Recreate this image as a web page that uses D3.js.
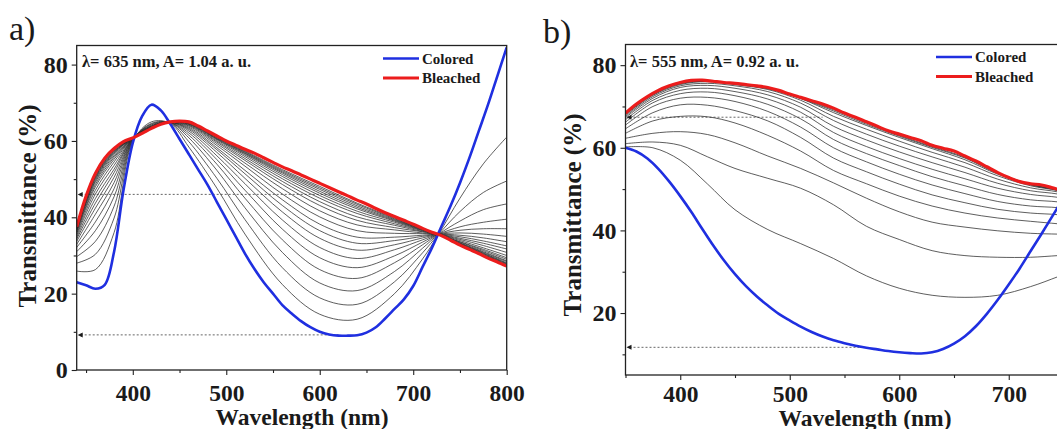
<!DOCTYPE html>
<html>
<head>
<meta charset="utf-8">
<script src="https://cdn.jsdelivr.net/npm/d3@7"></script>
<style>
  html, body { margin: 0; padding: 0; background: #fff; overflow: hidden; }
  svg { display: block; }
  text { font-family: "Liberation Serif", "Times New Roman", serif; }
</style>
</head>
<body>
<svg id="chart" width="1057" height="429"></svg>
<script>
// ---------- Panel a: lambda = 635 nm ----------
const wavelengthsA = [340,350,360,370,380,390,400,410,420,430,440,450,460,470,480,490,500,510,520,530,540,550,560,570,580,590,600,610,620,630,640,650,660,670,680,690,700,710,720,730,740,750,760,770,780,790,800];
const coloredA = [23.0,22.2,21.3,22.3,31.0,47.0,59.5,66.5,69.5,68.0,64.5,60.5,56.5,52.5,48.5,44.0,39.5,35.0,30.5,26.5,23.0,20.0,17.0,14.8,12.8,11.2,10.0,9.3,9.0,9.0,9.1,9.8,11.2,13.5,16.0,18.5,22.0,27.0,32.0,37.5,43.0,49.0,55.5,62.5,69.5,77.0,84.5];
const bleachedA = [37.5,45.5,51.5,55.5,58.0,59.8,60.8,62.0,63.3,64.4,65.0,65.2,65.0,63.9,62.6,61.3,60.0,58.9,57.8,56.8,55.6,54.4,53.2,52.2,51.1,50.0,48.9,47.8,46.7,45.6,44.5,43.5,42.3,41.2,40.2,39.2,38.2,37.1,36.1,35.2,34.0,32.7,31.6,30.5,29.3,28.3,27.2];

// intermediate spectra recorded during bleaching
const stepWavelengthsA = [340,360,380,400,420,440,460,490,520,560,600,640,680,710,727,750,775,800];
const stepSpectraA = [
  [25.9,26.3,36.0,59.8,65.0,64.6,58.4,47.6,35.6,22.4,14.6,13.3,20.0,29.1,35.5,45.0,54.0,61.0],
  [28.0,30.3,39.8,60.0,64.6,64.7,59.8,50.2,39.4,26.8,18.9,17.2,23.1,30.7,35.5,41.5,46.5,49.5],
  [29.7,33.7,42.9,60.2,64.4,64.8,60.8,52.3,42.5,30.8,22.8,20.8,25.8,31.9,35.5,39.0,42.0,43.5],
  [31.0,36.5,45.4,60.3,64.2,64.8,61.5,53.9,45.0,34.1,26.3,24.0,28.1,32.8,35.5,37.5,38.7,39.5],
  [32.1,38.8,47.5,60.4,64.0,64.8,62.1,55.1,47.1,36.9,29.4,26.8,29.9,33.5,35.5,36.6,37.0,37.0],
  [32.9,40.8,49.1,60.5,63.9,64.9,62.6,56.1,48.8,39.3,32.1,29.2,31.5,34.1,35.5,35.9,35.6,35.0],
  [33.7,42.4,50.5,60.5,63.8,64.9,63.0,57.0,50.2,41.4,34.5,31.4,32.8,34.6,35.5,35.3,34.6,33.6],
  [34.3,43.7,51.7,60.6,63.7,64.9,63.3,57.7,51.4,43.1,36.5,33.2,33.9,35.0,35.5,34.9,33.8,32.5],
  [34.8,44.9,52.6,60.6,63.6,64.9,63.6,58.2,52.3,44.6,38.2,34.8,34.8,35.3,35.5,34.5,33.2,31.7],
  [35.3,46.1,53.6,60.6,63.6,64.9,63.9,58.8,53.4,46.1,40.1,36.5,35.8,35.7,35.5,34.2,32.6,30.8],
  [35.7,47.1,54.5,60.7,63.5,64.9,64.1,59.3,54.2,47.5,41.7,38.0,36.7,35.9,35.5,33.9,32.0,30.0],
  [36.1,48.0,55.2,60.7,63.5,65.0,64.3,59.7,54.9,48.6,43.1,39.2,37.3,36.2,35.5,33.6,31.6,29.4],
  [36.3,48.6,55.7,60.7,63.4,65.0,64.4,60.0,55.4,49.4,44.1,40.1,37.9,36.3,35.5,33.5,31.3,29.0],
  [36.6,49.2,56.1,60.7,63.4,65.0,64.5,60.3,55.9,50.1,45.0,41.0,38.3,36.5,35.5,33.3,31.0,28.6],
  [36.7,49.6,56.5,60.8,63.4,65.0,64.6,60.5,56.3,50.7,45.7,41.6,38.7,36.6,35.5,33.2,30.8,28.4],
  [36.9,50.0,56.8,60.8,63.4,65.0,64.7,60.6,56.6,51.2,46.3,42.2,39.0,36.7,35.5,33.1,30.6,28.1],
  [37.0,50.3,57.0,60.8,63.3,65.0,64.8,60.8,56.8,51.6,46.8,42.6,39.2,36.8,35.5,33.0,30.5,27.9],
  [37.1,50.6,57.2,60.8,63.3,65.0,64.8,60.9,57.0,51.9,47.3,43.0,39.4,36.9,35.5,32.9,30.3,27.8],
  [37.2,50.8,57.4,60.8,63.3,65.0,64.9,61.0,57.2,52.2,47.7,43.4,39.6,36.9,35.5,32.9,30.2,27.6],
  [37.3,51.0,57.6,60.8,63.3,65.0,64.9,61.1,57.4,52.5,48.1,43.7,39.8,37.0,35.5,32.8,30.1,27.5]
];
// dotted guide levels (transmittance, end wavelength)
const guidesA = [[46.0, 630], [9.2, 620]];
const xTicksA = [400,500,600,700,800];
const xMinorA = [350,450,550,650,750];
const yTicksA = [0,20,40,60,80];
const yMinorA = [10,30,50,70];

// ---------- Panel b: lambda = 555 nm ----------
const wavelengthsB = [350,360,370,380,390,400,410,420,430,440,450,460,470,480,490,500,510,520,530,540,550,560,570,580,590,600,610,620,630,640,650,660,670,680,690,700,710,720,730,740,750,760];
const coloredB = [60.0,59.1,57.4,54.9,51.8,48.3,44.5,40.4,36.4,32.7,29.4,26.5,24.0,21.8,19.8,18.2,16.7,15.4,14.3,13.4,12.7,12.1,11.6,11.2,10.8,10.5,10.3,10.2,10.5,11.3,12.6,14.4,16.8,19.8,23.2,26.9,30.8,35.0,39.2,43.5,48.0,52.5];
const bleachedB = [68.4,70.6,72.4,73.9,75.0,75.8,76.3,76.4,76.1,75.8,75.6,75.3,75.0,74.6,73.9,73.0,72.2,71.4,70.6,69.6,68.4,67.4,66.3,65.2,64.1,63.3,62.5,61.7,60.6,59.9,59.2,58.0,56.8,55.4,54.0,52.8,51.8,51.3,51.0,50.3,49.5,48.7];

const stepWavelengthsB = [350,375,400,425,450,480,510,540,570,600,630,660,690,720,745,760];
const stepSpectraB = [
  [60.2,60.0,57.0,51.2,45.0,40.2,36.8,33.2,29.0,26.0,24.3,23.8,24.3,26.4,28.8,30.3],
  [61.0,61.4,60.6,57.8,55.0,52.6,50.2,46.2,41.0,37.8,35.1,33.9,33.5,33.5,33.9,34.1],
  [62.3,63.5,63.9,63.2,61.2,58.0,55.0,51.5,47.8,44.5,42.0,40.8,39.9,39.3,39.1,39.0],
  [63.5,66.5,67.6,67.5,66.0,63.0,59.2,54.5,51.3,48.3,45.9,44.2,43.0,42.2,41.6,41.2],
  [64.6,68.5,70.4,70.3,69.0,66.5,62.5,57.5,54.2,51.2,48.6,46.7,45.1,44.2,43.8,43.2],
  [65.5,70.0,72.0,72.2,71.2,68.8,65.0,60.0,56.6,53.6,51.0,48.9,47.0,45.9,45.5,44.9],
  [66.2,70.9,73.1,73.5,72.6,70.5,67.0,62.0,58.6,55.7,53.0,50.8,48.7,47.4,46.9,46.2],
  [66.8,71.5,73.9,74.4,73.6,71.8,68.6,63.7,60.3,57.4,54.8,52.5,50.2,48.7,48.0,47.2],
  [67.3,72.0,74.6,75.1,74.4,72.8,69.8,65.2,61.9,59.0,56.4,54.0,51.4,49.6,48.8,47.8],
  [67.6,72.4,75.0,75.6,75.0,73.6,70.8,66.6,63.3,60.4,57.8,55.3,52.4,50.3,49.3,48.1],
  [67.9,72.7,75.3,76.0,75.3,74.1,71.5,67.6,64.5,61.6,58.9,56.4,53.2,50.8,49.6,48.3],
  [68.1,72.9,75.5,76.1,75.4,74.3,71.9,68.5,65.4,62.5,59.8,57.1,53.6,51.0,49.7,48.4],
  [68.2,73.0,75.6,76.2,75.5,74.4,72.0,68.9,65.7,62.8,60.1,57.5,53.8,51.1,49.8,48.5],
  [68.3,73.1,75.7,76.2,75.5,74.5,72.1,69.2,66.0,63.0,60.3,57.7,53.9,51.2,49.8,48.5]
];
const guidesB = [[67.4, 530], [11.7, 565]];
const xTicksB = [400,500,600,700];
const xMinorB = [350,450,550,650,750];
const yTicksB = [20,40,60,80];
const yMinorB = [10,30,50,70];

const COLORED = "#1f2fe0";
const BLEACHED = "#ec1c1c";
const INK = "#1a1a1a";
const svg = d3.select("#chart");
const defs = svg.append("defs");

function drawPanel(p) {
  const x = d3.scaleLinear().domain(p.xDomain).range([p.left, p.right]);
  const y = d3.scaleLinear().domain(p.yDomain).range([p.bottom, p.top]);
  const g = svg.append("g");

  defs.append("clipPath").attr("id", "clip-" + p.id)
    .append("rect").attr("x", p.left).attr("y", p.top)
    .attr("width", p.right - p.left).attr("height", p.bottom - p.top);
  const plot = g.append("g").attr("clip-path", `url(#clip-${p.id})`);

  // dotted guide lines with small arrow heads at the axis
  p.guides.forEach(([level, end]) => {
    const x0 = x(p.xDomain[0]), yy = y(level);
    plot.append("line")
      .attr("x1", x0 + 4).attr("x2", x(end)).attr("y1", yy).attr("y2", yy)
      .attr("stroke", "#555").attr("stroke-width", 0.9).attr("stroke-dasharray", "2,2");
    plot.append("path")
      .attr("d", `M${x0 + 1},${yy} L${x0 + 6},${yy - 2.5} L${x0 + 6},${yy + 2.5} Z`)
      .attr("fill", INK);
  });

  const line = d3.line()
    .x(d => x(d[0])).y(d => y(d[1]))
    .curve(d3.curveCatmullRom.alpha(0.5));

  p.steps.forEach(vals => {
    plot.append("path")
      .datum(p.stepX.map((w, i) => [w, vals[i]]))
      .attr("d", line).attr("fill", "none")
      .attr("stroke", "#2b2b2b").attr("stroke-width", 0.9).attr("stroke-opacity", 0.85);
  });

  plot.append("path")
    .datum(p.wl.map((w, i) => [w, p.colored[i]]))
    .attr("d", line).attr("fill", "none")
    .attr("stroke", COLORED).attr("stroke-width", 2.6);

  plot.append("path")
    .datum(p.wl.map((w, i) => [w, p.bleached[i]]))
    .attr("d", line).attr("fill", "none")
    .attr("stroke", BLEACHED).attr("stroke-width", 3.2);

  // frame
  g.append("rect")
    .attr("x", p.left).attr("y", p.top)
    .attr("width", p.right - p.left).attr("height", p.bottom - p.top)
    .attr("fill", "none").attr("stroke", "#222").attr("stroke-width", 1.3);

  const styleTicks = sel => {
    sel.select(".domain").remove();
    sel.selectAll(".tick line").attr("stroke", "#222").attr("stroke-width", 1.1);
  };

  // x axis
  g.append("g").attr("transform", `translate(0,${p.bottom})`)
    .call(d3.axisBottom(x).tickValues(p.xMinor).tickSize(3).tickFormat(""))
    .call(styleTicks);
  g.append("g").attr("transform", `translate(0,${p.bottom})`)
    .call(d3.axisBottom(x).tickValues(p.xTicks).tickSize(5).tickSizeOuter(0).tickFormat(d3.format("d")))
    .call(styleTicks)
    .call(a => a.selectAll("text")
      .attr("dy", null).attr("y", p.xLabelY)
      .attr("font-size", 23.5).attr("font-weight", "bold")
      .attr("font-family", '"Liberation Serif", serif').attr("fill", INK));

  // y axis
  g.append("g").attr("transform", `translate(${p.left},0)`)
    .call(d3.axisLeft(y).tickValues(p.yMinor).tickSize(3).tickFormat(""))
    .call(styleTicks);
  g.append("g").attr("transform", `translate(${p.left},0)`)
    .call(d3.axisLeft(y).tickValues(p.yTicks).tickSize(5).tickPadding(4).tickSizeOuter(0).tickFormat(d3.format("d")))
    .call(styleTicks)
    .call(a => a.selectAll("text")
      .attr("font-size", 24).attr("font-weight", "bold")
      .attr("font-family", '"Liberation Serif", serif').attr("fill", INK));

  // axis titles
  g.append("text")
    .attr("x", p.xTitleX).attr("y", p.xTitleY)
    .attr("text-anchor", "middle").attr("font-size", 23.5).attr("font-weight", "bold").attr("fill", INK)
    .text("Wavelength (nm)");
  g.append("text")
    .attr("transform", `translate(${p.yTitleX},${p.yTitleY}) rotate(-90)`)
    .attr("text-anchor", "middle").attr("font-size", 25).attr("font-weight", "bold").attr("fill", INK)
    .text("Transmittance (%)");

  // annotation
  g.append("text")
    .attr("x", p.noteX).attr("y", p.noteY)
    .attr("font-size", 16.5).attr("font-weight", "bold").attr("fill", INK)
    .text(p.note);

  // legend
  [["Colored", COLORED, 2.6, 0], ["Bleached", BLEACHED, 3.2, 1]].forEach(([label, color, w, i]) => {
    const ly = p.legendY + i * 19.5;
    g.append("line")
      .attr("x1", p.legendX).attr("x2", p.legendX + 36).attr("y1", ly).attr("y2", ly)
      .attr("stroke", color).attr("stroke-width", w);
    g.append("text")
      .attr("x", p.legendX + 39).attr("y", ly + 5.2)
      .attr("font-size", 15).attr("font-weight", "bold").attr("fill", INK)
      .text(label);
  });

  // panel letter
  g.append("text")
    .attr("x", p.letterX).attr("y", p.letterY)
    .attr("font-size", 34).attr("fill", INK)
    .text(p.letter);
}

drawPanel({
  id: "a", letter: "a)", letterX: 9, letterY: 40,
  left: 76.7, right: 506.7, top: 45.5, bottom: 370,
  xDomain: [340, 800], yDomain: [0, 85],
  wl: wavelengthsA, colored: coloredA, bleached: bleachedA,
  stepX: stepWavelengthsA, steps: stepSpectraA, guides: guidesA,
  xTicks: xTicksA, xMinor: xMinorA, yTicks: yTicksA, yMinor: yMinorA,
  xLabelY: 31, xTitleX: 302, xTitleY: 425, yTitleX: 36, yTitleY: 206,
  note: "\u03bb= 635 nm, A= 1.04 a. u.", noteX: 82, noteY: 67,
  legendX: 383, legendY: 58.5
});

drawPanel({
  id: "b", letter: "b)", letterX: 543, letterY: 43,
  left: 625.5, right: 1118.25, top: 44.5, bottom: 375,
  xDomain: [350, 800], yDomain: [5, 85],
  wl: wavelengthsB, colored: coloredB, bleached: bleachedB,
  stepX: stepWavelengthsB, steps: stepSpectraB, guides: guidesB,
  xTicks: xTicksB, xMinor: xMinorB, yTicks: yTicksB, yMinor: yMinorB,
  xLabelY: 26.5, xTitleX: 865, xTitleY: 425.5, yTitleX: 581, yTitleY: 215,
  note: "\u03bb= 555 nm, A= 0.92 a. u.", noteX: 630, noteY: 67,
  legendX: 936, legendY: 57
});
</script>
</body>
</html>
